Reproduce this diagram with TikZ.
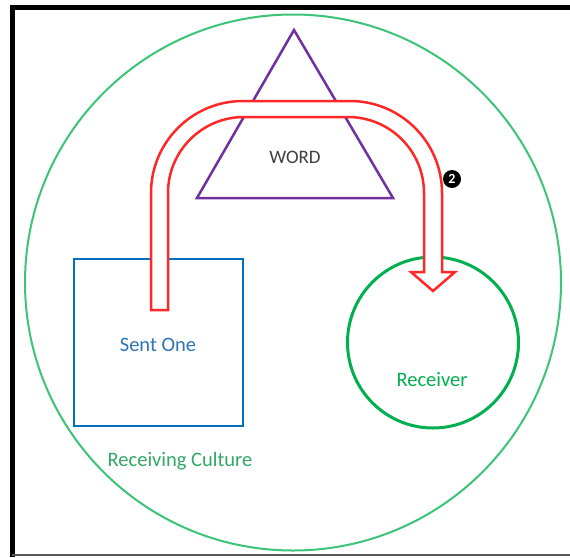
\documentclass[tikz,border=0pt]{standalone}
\usepackage{fontspec}
\setmainfont{Carlito}
\definecolor{cultgreen}{RGB}{60,196,120}
\definecolor{recgreen}{RGB}{0,176,80}
\definecolor{sentblue}{RGB}{0,112,192}
\definecolor{textblue}{RGB}{46,117,182}
\definecolor{wordpurple}{RGB}{112,48,160}
\definecolor{arrowred}{RGB}{255,40,40}
\definecolor{wordgray}{RGB}{64,64,64}
\begin{document}
\begin{tikzpicture}[x=1pt,y=-1pt,
  lbl/.style={inner sep=0pt, font=\fontsize{20.5}{20.5}\selectfont},
  shapebox/.style={inner sep=0pt, outer sep=0pt},
  arrowline/.style={draw=arrowred, fill=white, line width=2.5pt, line join=miter}
]
\useasboundingbox (0,0) rectangle (570,557);
\fill[white] (0,0) rectangle (570,557);
% frame
\draw[black, line width=5pt] (12.5,557) -- (12.5,7.5) -- (570,7.5);
\draw[black!65, line width=2pt] (12,554.5) -- (570,554.5);
% receiving culture circle
\node[shapebox, circle, draw=cultgreen, line width=2pt, minimum size=536pt] (culture) at (293,282.5) {};
% word triangle
\coordinate (apex) at (294,30);
\coordinate (bright) at (393,198);
\coordinate (bleft) at (197,198);
\draw[wordpurple, line width=2.5pt, line join=miter] (apex) -- (bright) -- (bleft) -- cycle;
\node[lbl, text=wordgray, font=\fontsize{19}{19}\selectfont] (word) at (295,157) {WORD};
% sent one square
\node[shapebox, draw=sentblue, line width=2.5pt, minimum width=169pt, minimum height=167pt] (sentbox) at (158.5,342.5) {};
\node[lbl, text=textblue] (sent) at (158,345) {Sent One};
% receiver circle
\node[shapebox, circle, draw=recgreen, line width=3pt, minimum size=171pt] (recv) at (433,342.5) {};
\node[lbl, text=recgreen] (recvtext) at (432,380) {Receiver};
\node[lbl, text=cultgreen!85!black] (culttext) at (180,461) {Receiving Culture};
% the U-shaped arrow
\coordinate (tail) at (159.5,310);
\coordinate (tip) at (433,291);
\draw[arrowline] (151,310) -- (151,193)
  .. controls (151,142.2) and (192.2,101) .. (243,101)
  -- (350,101)
  .. controls (400.8,101) and (442,142.2) .. (442,193)
  -- (442,272) -- (455,272) -- (tip) -- (411,272) -- (424,272) -- (424,193)
  .. controls (424,151) and (390,117) .. (348,117)
  -- (244,117)
  .. controls (202,117) and (168,151) .. (168,193)
  -- (168,310) -- cycle;
% step number
\node[circle, fill=black, text=white, inner sep=0pt, minimum size=18pt, font=\bfseries\fontsize{14}{14}\selectfont] (two) at (452,179) {2};
\end{tikzpicture}
\end{document}
